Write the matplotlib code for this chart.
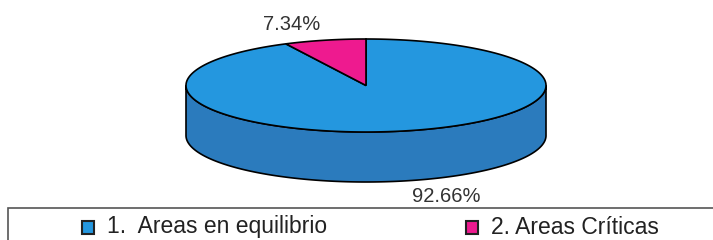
import matplotlib.pyplot as plt
import matplotlib.patches as mpatches
import numpy as np

# data
categories = ["1.  Areas en equilibrio", "2. Areas Críticas"]
values = [92.66, 7.34]
labels = ["92.66%", "7.34%"]
top_colors = ["#2497df", "#ee1a8f"]
side_colors = ["#2b7bbd", "#b0126a"]

plt.rcParams['font.family'] = ['Liberation Sans', 'DejaVu Sans']

fig = plt.figure(figsize=(7.13, 2.4), dpi=100)
ax = fig.add_axes([0, 0, 1, 1])
ax.set_xlim(0, 713)
ax.set_ylim(240, 0)
ax.axis('off')

# pie geometry (pixel space)
cx, cy = 366, 85.5
a, b = 180, 46.5
depth = 50


def pt(t, dy=0):
    return cx + a * np.cos(t), cy - b * np.sin(t) + dy


# wedge angles: pink starts at 12 o'clock going counter-clockwise
total = sum(values)
start = np.deg2rad(90 + 360 * values[1] / total)
angles = []
t0 = start
for v in values:
    t1 = t0 + 2 * np.pi * v / total
    angles.append((t0, t1))
    t0 = t1
angles[1] = (np.deg2rad(90), start)

# side walls (front half only: pi..2pi)
for (t0, t1), c in zip(angles, side_colors):
    for k in range(-1, 2):
        lo = max(t0, np.pi + 2 * np.pi * k)
        hi = min(t1, 2 * np.pi + 2 * np.pi * k)
        if hi <= lo:
            continue
        ts = np.linspace(lo, hi, 200)
        xs, ys = pt(ts)
        xb, yb = pt(ts[::-1], depth)
        poly = np.column_stack([np.r_[xs, xb], np.r_[ys, yb]])
        ax.add_patch(mpatches.Polygon(poly, closed=True, fc=c, ec='black', lw=1.2))

# top faces
for (t0, t1), c in zip(angles, top_colors):
    ts = np.linspace(t0, t1, 400)
    xs, ys = pt(ts)
    poly = np.column_stack([np.r_[cx, xs], np.r_[cy, ys]])
    ax.add_patch(mpatches.Polygon(poly, closed=True, fc=c, ec='black', lw=1.2, joinstyle='miter'))

# value labels
ax.text(292, 24, labels[1], fontsize=14.5, ha='center', va='center', color='#333333')
ax.text(446, 197, labels[0], fontsize=14.5, ha='center', va='center', color='#333333')

# legend box
ax.add_patch(mpatches.Rectangle((8, 208), 720, 40, fc='white', ec='#555555', lw=1.2))
for x0, lab, c in zip([82, 466], categories, top_colors):
    ax.add_patch(mpatches.Rectangle((x0, 221), 12, 13, fc=c, ec='#222222', lw=1.5))
    ax.text(x0 + 25, 227, lab, fontsize=16.5, ha='left', va='center', color='#222222')

fig.savefig('out.png', dpi=100, facecolor='white')
